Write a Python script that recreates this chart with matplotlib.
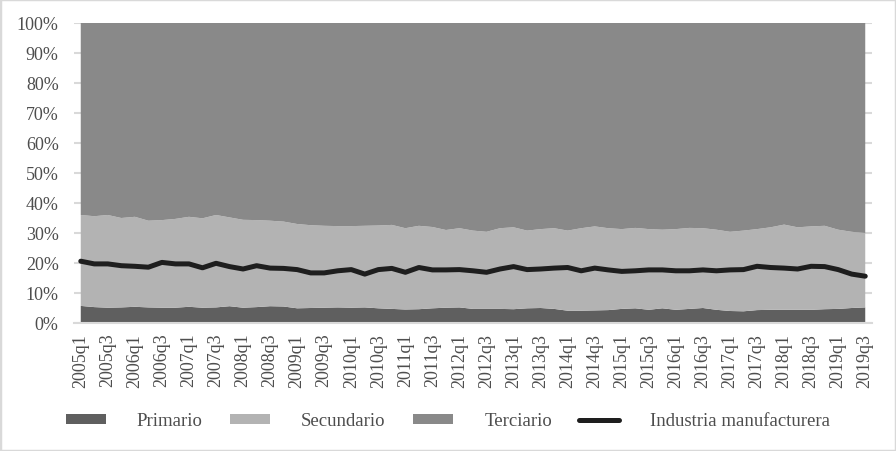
import matplotlib
matplotlib.use('Agg')
import matplotlib.pyplot as plt
import numpy as np
from matplotlib.patches import Rectangle
from matplotlib.ticker import FuncFormatter

plt.rcParams['font.family'] = ['Liberation Serif', 'DejaVu Serif']

# quarters 2005q1 .. 2019q3
quarters = ['%dq%d' % (y, q) for y in range(2005, 2020) for q in range(1, 5)][:59]

primario = [5.7, 5.3, 5.1, 5.2, 5.4, 5.2, 5.1, 5.1, 5.4, 5.1,
            5.2, 5.6, 5.1, 5.3, 5.6, 5.5, 4.9, 5.0, 5.1, 5.2,
            5.1, 5.2, 4.9, 4.7, 4.5, 4.6, 4.9, 5.1, 5.2, 4.7,
            4.7, 4.7, 4.6, 4.9, 5.0, 4.7, 4.1, 4.1, 4.2, 4.3,
            4.7, 4.9, 4.4, 4.9, 4.4, 4.7, 5.0, 4.4, 4.0, 3.9,
            4.3, 4.4, 4.4, 4.4, 4.4, 4.6, 4.7, 5.0, 5.2]
secundario = [30.3, 30.3, 30.9, 29.8, 30.0, 28.9, 29.2, 29.6, 30.0, 29.8,
              30.8, 29.6, 29.3, 29.0, 28.5, 28.3, 28.1, 27.6, 27.3, 27.1,
              27.2, 27.2, 27.6, 28.0, 27.1, 27.8, 27.1, 25.9, 26.4, 26.1,
              25.7, 26.9, 27.3, 25.9, 26.3, 26.9, 26.7, 27.5, 28.0, 27.3,
              26.6, 26.8, 26.9, 26.2, 26.9, 27.0, 26.6, 26.7, 26.4, 26.9,
              27.0, 27.5, 28.4, 27.5, 27.8, 27.8, 26.4, 25.4, 24.8]
terciario = [64.0, 64.4, 64.0, 65.0, 64.6, 65.9, 65.7, 65.3, 64.6, 65.1,
             64.0, 64.8, 65.6, 65.7, 65.9, 66.2, 67.0, 67.4, 67.6, 67.7,
             67.7, 67.6, 67.5, 67.3, 68.4, 67.6, 68.0, 69.0, 68.4, 69.2,
             69.6, 68.4, 68.1, 69.2, 68.7, 68.4, 69.2, 68.4, 67.8, 68.4,
             68.7, 68.3, 68.7, 68.9, 68.7, 68.3, 68.4, 68.9, 69.6, 69.2,
             68.7, 68.1, 67.2, 68.1, 67.8, 67.6, 68.9, 69.6, 70.0]
industria = [20.6, 19.7, 19.7, 19.1, 18.9, 18.6, 20.2, 19.7, 19.7, 18.4,
             19.9, 18.8, 18.0, 19.1, 18.3, 18.2, 17.8, 16.7, 16.7, 17.4,
             17.8, 16.3, 17.8, 18.2, 16.9, 18.5, 17.7, 17.7, 17.8, 17.4,
             16.9, 18.0, 18.8, 17.8, 18.0, 18.3, 18.5, 17.4, 18.3, 17.7,
             17.2, 17.4, 17.7, 17.7, 17.4, 17.4, 17.7, 17.4, 17.7, 17.8,
             18.9, 18.5, 18.3, 18.0, 18.9, 18.8, 17.8, 16.3, 15.6]

text_col = '#4d4d4d'
grid_col = '#d9d9d9'

fig = plt.figure(figsize=(8.96, 4.52), dpi=100)
ax = fig.add_axes([74 / 896, 128 / 452, 798 / 896, 300 / 452])

x = np.arange(len(quarters))
ax.stackplot(x, primario, secundario, terciario,
             colors=['#5f5f5f', '#b3b3b3', '#898989'],
             labels=['Primario', 'Secundario', 'Terciario'])
ax.plot(x, industria, color='#1e1e1e', lw=3.6, solid_joinstyle='round',
        solid_capstyle='round', label='Industria manufacturera')

ax.set_xlim(-0.5, len(quarters) - 0.5)
ax.set_ylim(0, 100)
ax.set_yticks(np.arange(0, 101, 10))
ax.yaxis.set_major_formatter(FuncFormatter(lambda v, p: '%d%%' % v))
ax.set_xticks(x[::2])
ax.set_xticklabels(quarters[::2], rotation=90)
ax.set_axisbelow(True)
ax.grid(axis='y', color=grid_col, lw=1.5)
for s in ['top', 'right', 'left']:
    ax.spines[s].set_visible(False)
ax.spines['bottom'].set_color(grid_col)
ax.spines['bottom'].set_linewidth(1.5)
ax.tick_params(axis='both', length=0, colors=text_col, labelsize=13)
ax.tick_params(axis='x', pad=7)
ax.tick_params(axis='y', pad=11)

fig.legend(loc='center', bbox_to_anchor=(0.5, 30 / 452), ncol=4, frameon=False,
           fontsize=13.5, labelcolor=text_col, handlelength=2.15, handleheight=0.5,
           handletextpad=1.65, columnspacing=1.45)

fig.patches.append(Rectangle((0, 0), 1, 1, transform=fig.transFigure, fill=False,
                             edgecolor=grid_col, lw=2.5))

fig.savefig('out.png', dpi=100)
